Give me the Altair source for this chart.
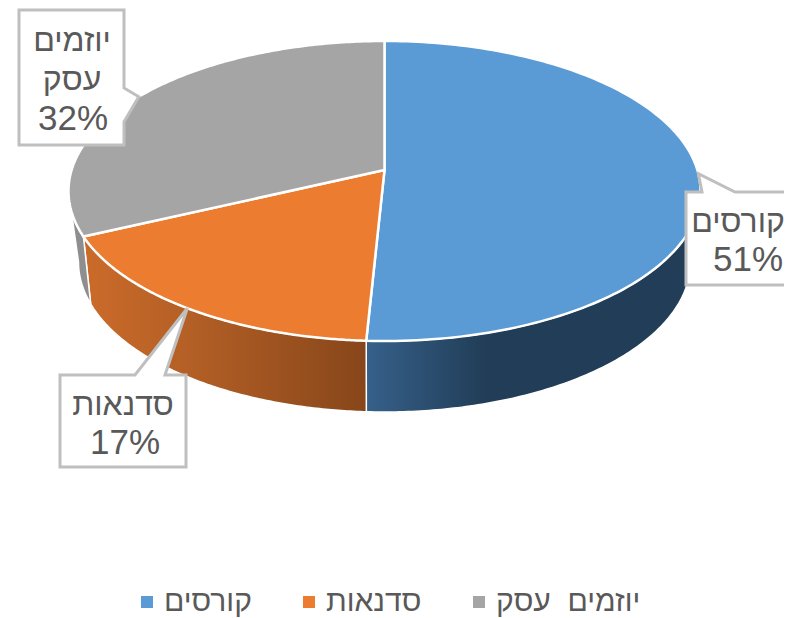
import numpy as np
import altair as alt

# --- chart values -----------------------------------------------------------
categories = ["קורסים", "סדנאות", "יוזמים עסק"]
shares = [50.8, 17.2, 32.0]
percent_labels = ["51%", "17%", "32%"]
label_lines = [["קורסים"], ["סדנאות"], ["יוזמים", "עסק"]]
top_colors = ["#5B9BD5", "#EC7C30", "#A5A5A5"]
side_stops = [
    [("#36608A", 0.0), ("#213D57", 0.36), ("#213D57", 1.0)],
    [("#CB6B2A", 0.0), ("#B56026", 0.35), ("#87461A", 1.0)],
    [("#8E8E8E", 0.0), ("#8E8E8E", 1.0)],
]

# --- pie geometry (page pixels, shifted by the 8px margin) ------------------
M = 8
TOP = dict(cx=384.5, cy=191.0, rx=316.0, ry=150.0, a=0.14)
BOT = dict(cx=384.5, cy=262.0, rx=306.0, ry=150.0, a=0.166)


def warped(theta, e):
    """Clockwise angle from the top -> unit ellipse point seen in perspective."""
    x, y = np.sin(theta), np.cos(theta)
    a = e["a"]
    d = 1 + a * y
    return x * np.sqrt(1 - a * a) / d, (y + a) / d


def to_px(ux, uy, e):
    return e["cx"] + e["rx"] * ux - M, e["cy"] - e["ry"] * uy - M


def param(theta, e):
    ux, uy = warped(theta, e)
    return float(np.arctan2(ux, uy) % (2 * np.pi))


def ring(points):
    pts = [[float(x), float(y)] for x, y in points]
    return pts + [pts[0]]


def feature(points, name):
    return {
        "type": "Feature",
        "properties": {"name": name},
        "geometry": {"type": "Polygon", "coordinates": [ring(points)]},
    }


edges = np.cumsum([0] + shares) / sum(shares) * 2 * np.pi
projection = alt.Projection(type="identity", scale=1, translate=[0, 0])

layers = []
top_features = []
tips = []

for i, name in enumerate(categories):
    t0, t1 = edges[i], edges[i + 1]
    thetas = np.linspace(t0, t1, 160)
    ux, uy = warped(thetas, TOP)
    apex = to_px(0.0, TOP["a"], TOP)
    top_features.append(feature([apex] + list(zip(*to_px(ux, uy, TOP))), name))
    tips.append(to_px(*warped((t0 + t1) / 2, TOP), TOP))

    # Visible part of the rim (lower half of both ellipses)
    def span(e):
        s = max(param(t0, e) if t0 > 0 else 0.0, np.pi / 2)
        f = min(param(t1, e) if t1 < 2 * np.pi - 1e-6 else 2 * np.pi, 3 * np.pi / 2)
        return np.linspace(s, f, 120)

    t_top, t_bot = span(TOP), span(BOT)
    upper = list(zip(*to_px(np.sin(t_top), np.cos(t_top), TOP)))
    lower = list(zip(*to_px(np.sin(t_bot), np.cos(t_bot), BOT)))
    side = feature(upper + lower[::-1], name)
    gradient = alt.Gradient(
        gradient="linear", x1=0, x2=1, y1=0, y2=0,
        stops=[alt.GradientStop(color=c, offset=o) for c, o in side_stops[i]],
    )
    layers.append(
        alt.Chart(alt.Data(values=[side]))
        .mark_geoshape(fill=gradient, stroke="white", strokeWidth=1.5)
        .project(**projection.to_dict())
    )

top_layer = (
    alt.Chart(alt.Data(values=top_features))
    .mark_geoshape(stroke="white", strokeWidth=2.5)
    .encode(
        color=alt.Color(
            "properties.name:N",
            scale=alt.Scale(domain=categories, range=top_colors),
            sort=categories,
            legend=alt.Legend(
                title=None,
                orient="none",
                legendX=124,
                legendY=579,
                direction="horizontal",
                columns=3,
                symbolType="square",
                symbolSize=144,
                symbolStrokeWidth=0,
                symbolOpacity=1,
                labelFont="Liberation Sans",
                labelFontSize=30,
                labelColor="#595959",
                labelOffset=2,
                labelLimit=300,
                labelExpr="replace(datum.label, ' ', '\u00a0\u00a0')",
                columnPadding=42,
                padding=0,
            ),
        )
    )
    .project(**projection.to_dict())
)
layers.append(top_layer)

# --- callouts ---------------------------------------------------------------
# box = left, top, right, bottom; notch = the two points where the pointer
# leaves the box; name_x / pct_x = text centres; text_y = first line centre.
callouts = [
    dict(box=(686, 192, 802, 285), notch=((702, 192), (735, 192)), side="top",
         name_x=738, pct_x=748, text_y=222, step=38),
    dict(box=(60, 375, 186, 467), notch=((135, 375), (165, 375)), side="top",
         name_x=123, pct_x=125, text_y=405, step=38),
    dict(box=(19, 10, 124, 145), notch=((124, 88), (124, 122)), side="right",
         name_x=72, pct_x=73, text_y=41, step=39),
]

box_features, text_rows = [], []
for i, c in enumerate(callouts):
    l, t, r, b = c["box"]
    n0, n1 = c["notch"]
    tip = (tips[i][0] + M, tips[i][1] + M)
    if c["side"] == "top":
        path = [(l, t), n0, tip, n1, (r, t), (r, b), (l, b)]
    else:
        path = [(l, t), (r, t), n0, tip, n1, (r, b), (l, b)]
    box_features.append(feature([(x - M, y - M) for x, y in path], categories[i]))
    y = c["text_y"]
    for line in label_lines[i]:
        text_rows.append({"label": line, "px": c["name_x"] - M, "py": y - M, "fs": 32})
        y += c["step"]
    text_rows.append({"label": percent_labels[i], "px": c["pct_x"] - M, "py": y - M, "fs": 35})

layers.append(
    alt.Chart(alt.Data(values=box_features))
    .mark_geoshape(fill="white", stroke="#BFBFBF", strokeWidth=3, strokeJoin="miter")
    .project(**projection.to_dict())
)
layers.append(
    alt.Chart(alt.Data(values=text_rows))
    .mark_text(font="Liberation Sans", color="#595959", align="center", baseline="middle")
    .encode(
        x=alt.X("px:Q", scale=None, axis=None),
        y=alt.Y("py:Q", scale=None, axis=None),
        size=alt.Size("fs:Q", scale=None, legend=None),
        text="label:N",
    )
)

chart = (
    alt.layer(*layers)
    .properties(
        width=776,
        height=610,
        autosize=alt.AutoSizeParams(type="none"),
        padding=0,
        background="white",
    )
    .configure_view(stroke=None)
)

chart.save("out.html", embed_options={"renderer": "svg", "actions": False})
